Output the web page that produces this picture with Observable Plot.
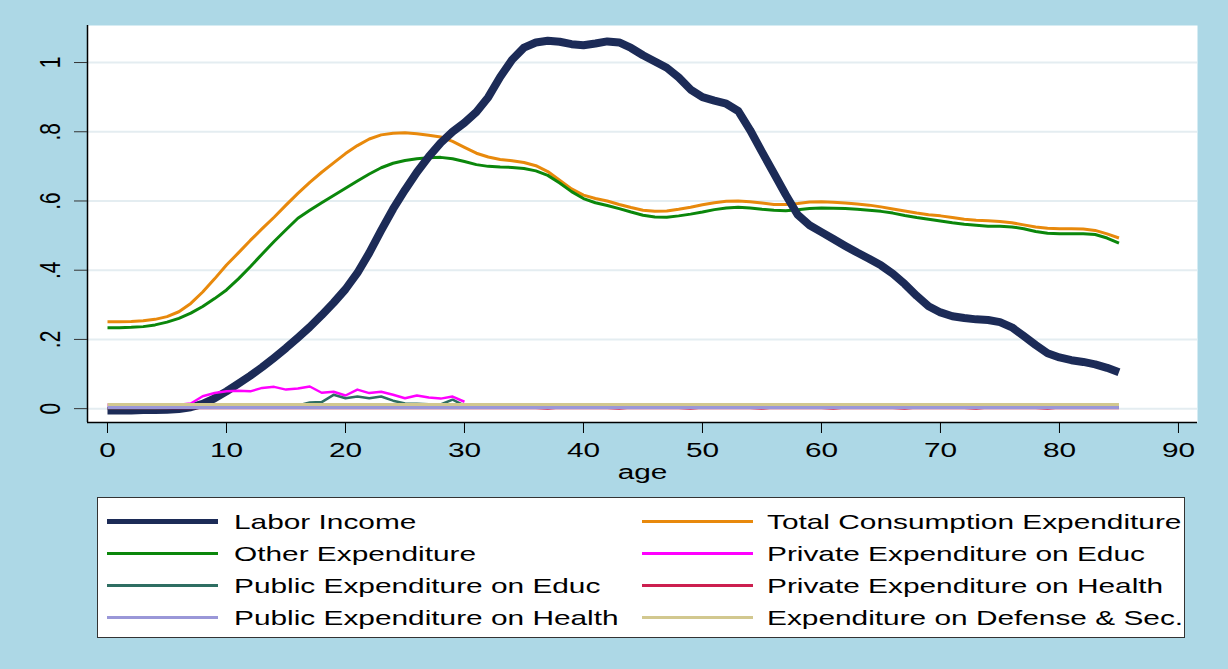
<!DOCTYPE html>
<html>
<head>
<meta charset="utf-8">
<script src="https://cdn.jsdelivr.net/npm/d3@7"></script>
<script src="https://cdn.jsdelivr.net/npm/@observablehq/plot@0.6"></script>
<style>
  html, body { margin: 0; padding: 0; background: #add8e6; }
  #wrap { position: relative; width: 1228px; height: 669px; background: #add8e6; overflow: hidden; }
  #legend { position: absolute; left: 97px; top: 497px; width: 1086px; height: 139px; background: #fff; border: 1px solid #333; }
  .lg-line { position: absolute; }
  .lg-text { position: absolute; font-family: "Liberation Sans", Arial, sans-serif; font-size: 21px; line-height: 21px; color: #000; white-space: nowrap; transform: scaleX(1.42); transform-origin: left center; }
</style>
</head>
<body>
<div id="wrap"><div id="chart"></div><div id="legend"></div></div>
<script>
// ---- data ----
const ages = [0,1,2,3,4,5,6,7,8,9,10,11,12,13,14,15,16,17,18,19,20,21,22,23,24,25,26,27,28,29,30,31,32,33,34,35,36,37,38,39,40,41,42,43,44,45,46,47,48,49,50,51,52,53,54,55,56,57,58,59,60,61,62,63,64,65,66,67,68,69,70,71,72,73,74,75,76,77,78,79,80,81,82,83,84,85];

const laborIncome = [
  -0.005,-0.005,-0.005,-0.004,-0.004,-0.003,-0.001,0.004,0.014,0.03,
  0.05,0.072,0.095,0.12,0.147,0.175,0.205,0.236,0.27,0.306,
  0.345,0.392,0.45,0.515,0.577,0.632,0.683,0.728,0.768,0.8,
  0.826,0.857,0.9,0.958,1.008,1.043,1.058,1.063,1.06,1.053,
  1.05,1.055,1.061,1.058,1.042,1.021,1.003,0.985,0.957,0.922,
  0.9,0.89,0.881,0.86,0.805,0.742,0.68,0.618,0.56,0.53,
  0.51,0.49,0.47,0.451,0.433,0.414,0.39,0.36,0.326,0.296,
  0.278,0.267,0.262,0.258,0.256,0.25,0.235,0.21,0.184,0.16,
  0.148,0.14,0.135,0.128,0.118,0.105];

const totalConsumption = [
  0.251,0.251,0.252,0.254,0.258,0.266,0.28,0.304,0.337,0.375,
  0.415,0.45,0.486,0.52,0.553,0.588,0.622,0.654,0.683,0.71,
  0.737,0.76,0.779,0.791,0.796,0.797,0.794,0.79,0.785,0.772,
  0.755,0.738,0.727,0.72,0.716,0.711,0.702,0.685,0.66,0.635,
  0.617,0.607,0.6,0.59,0.581,0.573,0.57,0.571,0.576,0.582,
  0.589,0.595,0.599,0.6,0.598,0.594,0.59,0.59,0.593,0.597,
  0.598,0.596,0.594,0.591,0.588,0.583,0.577,0.571,0.565,0.56,
  0.557,0.552,0.547,0.544,0.543,0.541,0.537,0.531,0.525,0.521,
  0.52,0.52,0.519,0.515,0.505,0.493];

const otherExpenditure = [
  0.234,0.234,0.235,0.237,0.242,0.25,0.261,0.276,0.295,0.318,
  0.343,0.375,0.41,0.447,0.483,0.517,0.55,0.573,0.595,0.616,
  0.637,0.658,0.678,0.696,0.709,0.717,0.722,0.725,0.726,0.722,
  0.714,0.705,0.7,0.698,0.697,0.694,0.687,0.674,0.652,0.627,
  0.607,0.595,0.587,0.578,0.568,0.559,0.554,0.553,0.557,0.562,
  0.568,0.575,0.58,0.582,0.58,0.576,0.573,0.572,0.575,0.578,
  0.58,0.579,0.578,0.576,0.573,0.57,0.565,0.558,0.552,0.547,
  0.542,0.537,0.533,0.53,0.527,0.527,0.525,0.52,0.512,0.507,
  0.505,0.505,0.505,0.503,0.493,0.478];

const privateEduc = [
  0.011,0.011,0.011,0.011,0.011,0.011,0.011,0.015,0.036,0.045,
  0.05,0.052,0.05,0.06,0.063,0.055,0.058,0.064,0.046,0.049,
  0.038,0.055,0.045,0.049,0.04,0.03,0.038,0.032,0.029,0.035,
  0.02];

const publicEduc = [
  0.001,0.001,0.001,0.001,0.001,0.002,0.003,0.004,0.005,0.005,
  0.005,0.006,0.006,0.006,0.006,0.007,0.009,0.018,0.019,0.04,
  0.03,0.035,0.03,0.035,0.023,0.015,0.014,0.013,0.012,0.026,
  0.009,0.004,0.004,0.004,0.004,0.004,0.004,0.004,0.004,0.004,
  0.004,0.004,0.004,0.004,0.004,0.004,0.004,0.004,0.004,0.004,
  0.004,0.005,0.004,0.006,0.005,0.004,0.006,0.005,0.004,0.004,
  0.005,0.004,0.004,0.006,0.004,0.004,0.004,0.005,0.004,0.004,
  0.006,0.004,0.004,0.004,0.004,0.004,0.004,0.004,0.004,0.004,
  0.004,0.004,0.004,0.004,0.004,0.004];

const privateHealth = [
  0.001,0.001,0.002,0.001,0.001,0.002,0.001,0.001,0.002,0.001,
  0.001,0.002,0.001,0.001,0.002,0.001,0.001,0.002,0.001,0.001,
  0.002,0.001,0.001,0.002,0.001,0.001,0.002,0.001,0.001,0.002,
  0.001,0.001,0.002,0.001,0.001,0.002,0.001,0.000,0.002,0.001,
  0.001,0.002,0.001,0.000,0.002,0.001,0.001,0.002,0.001,0.000,
  0.002,0.001,0.001,0.002,0.001,0.000,0.002,0.001,0.001,0.002,
  0.001,0.000,0.002,0.001,0.001,0.002,0.001,0.000,0.002,0.001,
  0.001,0.002,0.001,0.000,0.002,0.001,0.001,0.002,0.001,0.000,
  0.002,0.001,0.001,0.002,0.001,0.001];

const publicHealth = [
  0.003,0.003,0.003,0.003,0.003,0.003,0.003,0.003,0.003,0.003,
  0.003,0.003,0.003,0.003,0.003,0.003,0.003,0.003,0.003,0.003,
  0.003,0.003,0.003,0.003,0.003,0.003,0.003,0.003,0.003,0.003,
  0.003,0.003,0.003,0.003,0.003,0.003,0.003,0.003,0.003,0.003,
  0.003,0.003,0.003,0.003,0.003,0.003,0.003,0.003,0.003,0.003,
  0.003,0.003,0.003,0.003,0.003,0.003,0.003,0.003,0.003,0.003,
  0.003,0.003,0.003,0.003,0.003,0.003,0.003,0.003,0.003,0.003,
  0.003,0.003,0.003,0.003,0.003,0.003,0.003,0.003,0.003,0.003,
  0.003,0.003,0.003,0.003,0.003,0.003];

const defenseSec = [
  0.012,0.012,0.012,0.012,0.012,0.012,0.012,0.012,0.012,0.012,
  0.012,0.012,0.012,0.012,0.012,0.012,0.012,0.012,0.012,0.012,
  0.012,0.012,0.012,0.012,0.012,0.012,0.012,0.012,0.012,0.012,
  0.012,0.012,0.012,0.012,0.012,0.012,0.012,0.012,0.012,0.012,
  0.012,0.012,0.012,0.012,0.012,0.012,0.012,0.012,0.012,0.012,
  0.012,0.012,0.012,0.012,0.012,0.012,0.012,0.012,0.012,0.012,
  0.012,0.012,0.012,0.012,0.012,0.012,0.012,0.012,0.012,0.012,
  0.012,0.012,0.012,0.012,0.012,0.012,0.012,0.012,0.012,0.012,
  0.012,0.012,0.012,0.012,0.012,0.012];

const seriesNames = ["Labor Income","Total Consumption Expenditure","Other Expenditure","Private Expenditure on Educ","Public Expenditure on Educ","Private Expenditure on Health","Public Expenditure on Health","Expenditure on Defense & Sec."];
const seriesValues = [laborIncome,totalConsumption,otherExpenditure,privateEduc,publicEduc,privateHealth,publicHealth,defenseSec];
const seriesColors = ["#1c2b57","#e8890c","#0b870b","#ff00ff","#2e6e62","#cc1f4f","#9a97d8","#d2c88f"];
const seriesWidths = [8,3,3,2.5,2.5,2,3,3];
const drawOrder = [1,2,0,3,4,5,6,7];

const xTicks = [0,10,20,30,40,50,60,70,80,90];
const yTicks = [0,0.2,0.4,0.6,0.8,1];
const yTickLabels = ["0",".2",".4",".6",".8","1"];
const xTitle = "age";

// ---- build table ----
const rows = [];
seriesValues.forEach((vals, s) => vals.forEach((v, i) => rows.push({series: seriesNames[s], age: ages[i], value: v})));

const xDomain = [-1.68, 91.6];
const yDomain = [-0.04, 1.107];
const STRETCH = 1.42;

const lineMarks = drawOrder.map(s => Plot.line(rows.filter(r => r.series === seriesNames[s]), {
  x: "age", y: "value", stroke: seriesColors[s], strokeWidth: seriesWidths[s], strokeLinejoin: "round", strokeLinecap: "butt"
}));

const chart = Plot.plot({
  width: 1228, height: 490,
  marginLeft: 87, marginRight: 31, marginTop: 25, marginBottom: 68,
  style: {background: "transparent", fontFamily: "'Liberation Sans', Arial, sans-serif", fontSize: "21px", color: "#000"},
  x: {domain: xDomain},
  y: {domain: yDomain},
  marks: [
    Plot.frame({fill: "#fff", stroke: "none"}),
    Plot.ruleY(yTicks, {stroke: "#e4edf1", strokeWidth: 2}),
    ...lineMarks,
    Plot.ruleX([xDomain[0]], {stroke: "#000", strokeWidth: 1.5}),
    Plot.ruleY([yDomain[0]], {stroke: "#000", strokeWidth: 1.5}),
    Plot.axisX(xTicks, {tickSize: 11, tickPadding: 9, stroke: "#000", fontSize: 21, label: null}),
    Plot.axisY(yTicks, {tickSize: 13, stroke: "#333", tickFormat: () => "", label: null}),
    Plot.text(yTicks, {y: d => d, text: (d, i) => yTickLabels[i], frameAnchor: "left", dx: -37, rotate: -90, textAnchor: "middle", lineAnchor: "middle", fontSize: 21, fill: "#000"}),
    Plot.text([xTitle], {text: d => d, frameAnchor: "bottom", dy: 50, lineAnchor: "middle", textAnchor: "middle", fontSize: 21, fill: "#000"})
  ]
});

// horizontal stretch of the text, as in the original picture
chart.querySelectorAll("text").forEach(el => {
  let t = el.getAttribute("transform") || "";
  if (t.includes("rotate")) t = t.replace("rotate", `scale(${STRETCH},1) rotate`);
  else t = t + ` scale(${STRETCH},1)`;
  el.setAttribute("transform", t.trim());
});
document.getElementById("chart").appendChild(chart);

// ---- legend ----
const legend = document.getElementById("legend");
const rowCenters = [23, 55, 87, 119]; // inside legend box
const colLineX = [9, 544];
const colTextX = [136, 669];
seriesNames.forEach((name, i) => {
  const r = Math.floor(i / 2), c = i % 2;
  const ln = document.createElement("div");
  ln.className = "lg-line";
  const w = i === 0 ? 5 : 3;
  ln.style.left = colLineX[c] + "px";
  ln.style.width = "111px";
  ln.style.height = w + "px";
  ln.style.top = (rowCenters[r] - w / 2) + "px";
  ln.style.background = seriesColors[i];
  legend.appendChild(ln);
  const tx = document.createElement("div");
  tx.className = "lg-text";
  tx.textContent = name;
  tx.style.left = colTextX[c] + "px";
  tx.style.top = (rowCenters[r] - 10) + "px";
  legend.appendChild(tx);
});
</script>
</body>
</html>
